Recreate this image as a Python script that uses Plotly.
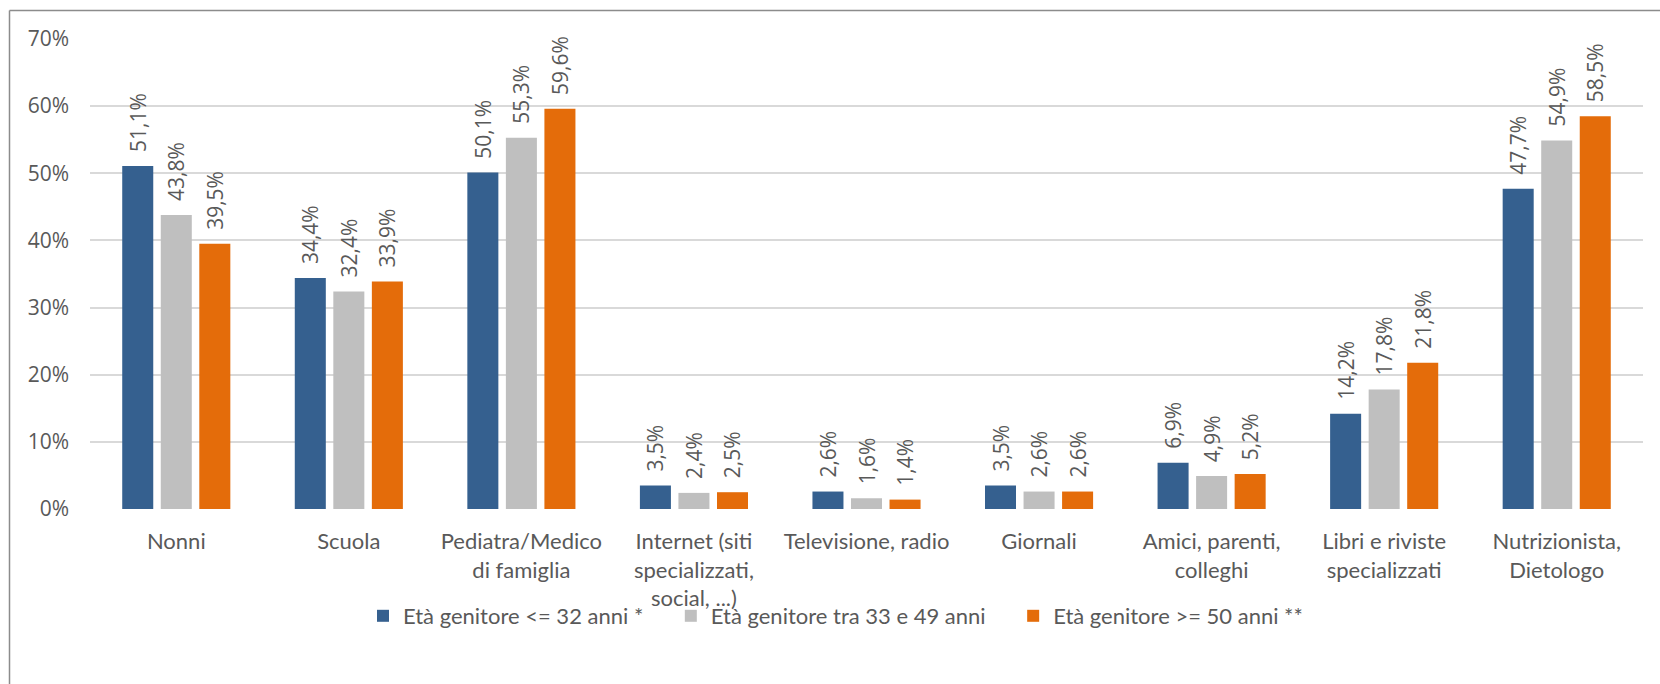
import plotly.graph_objects as go

categories = [
    "Nonni",
    "Scuola",
    "Pediatra/Medico<br>di famiglia",
    "Internet (siti<br>specializzati,<br>social, ...)",
    "Televisione, radio",
    "Giornali",
    "Amici, parenti,<br>colleghi",
    "Libri e riviste<br>specializzati",
    "Nutrizionista,<br>Dietologo",
]
series_names = [
    "Età genitore <= 32 anni *",
    "Età genitore tra 33 e 49 anni",
    "Età genitore >= 50 anni **",
]
under_32 = [0.511, 0.344, 0.501, 0.035, 0.026, 0.035, 0.069, 0.142, 0.477]
between_33_49 = [0.438, 0.324, 0.553, 0.024, 0.016, 0.026, 0.049, 0.178, 0.549]
over_50 = [0.395, 0.339, 0.596, 0.025, 0.014, 0.026, 0.052, 0.218, 0.585]
y_ticks = [0, 0.1, 0.2, 0.3, 0.4, 0.5, 0.6, 0.7]

colors = ["#35608F", "#BFBFBF", "#E46C0A"]
TEXT = "#595959"
NUM_FONT = "Open Sans, Noto Sans, sans-serif"
LBL_FONT = "Lato, Roboto, sans-serif"

W, H = 1660, 684
L, R, T, B = 90, 17, 39, 175
pw, ph = W - L - R, H - T - B

def px_x(p):
    return (p - L) / pw

def px_y(p):
    return (H - B - p) / ph

fig = go.Figure()
for name, vals, col in zip(series_names, [under_32, between_33_49, over_50], colors):
    fig.add_trace(go.Bar(
        x=categories, y=vals, name=name + "\u00a0\u00a0\u00a0\u00a0",
        marker=dict(color=col, line=dict(width=0)),
        texttemplate="\u00a0\u00a0%{y:.1%}",
        textposition="outside", textangle=-90, constraintext="none",
        outsidetextfont=dict(family=NUM_FONT, size=21, color=TEXT),
        cliponaxis=False,
    ))

fig.update_layout(
    width=W, height=H,
    margin=dict(l=L, r=R, t=T, b=B),
    paper_bgcolor="white", plot_bgcolor="white",
    separators=",.",
    barmode="group", bargap=0.33, bargroupgap=0.195,
    showlegend=True,
    legend=dict(
        orientation="h", xanchor="center", yanchor="middle",
        x=px_x(847), y=px_y(616),
        bgcolor="rgba(0,0,0,0)",
        font=dict(family=LBL_FONT, size=22, color=TEXT),
        itemclick=False, itemdoubleclick=False,
    ),
    xaxis=dict(
        tickfont=dict(family=LBL_FONT, size=22, color=TEXT),
        showgrid=False, showline=False, ticks="", ticklabelstandoff=17,
    ),
    yaxis=dict(
        range=[0, 0.7], tickvals=y_ticks, tickformat=".0%",
        tickfont=dict(family=NUM_FONT, size=21, color=TEXT),
        showgrid=True, gridcolor="#D9D9D9", gridwidth=1.5,
        zeroline=False, showline=False, ticks="", ticklabelstandoff=20,
    ),
    shapes=[
        dict(type="line", xref="paper", yref="paper",
             x0=px_x(9.5), x1=px_x(W + 5), y0=px_y(10.5), y1=px_y(10.5),
             line=dict(color="#8C8C8C", width=1.5)),
        dict(type="line", xref="paper", yref="paper",
             x0=px_x(9.5), x1=px_x(9.5), y0=px_y(10.5), y1=px_y(H + 5),
             line=dict(color="#8C8C8C", width=1.5)),
    ],
)

fig.write_html("out.html", config={"displayModeBar": False},
               post_script="document.body.style.margin='0';")
